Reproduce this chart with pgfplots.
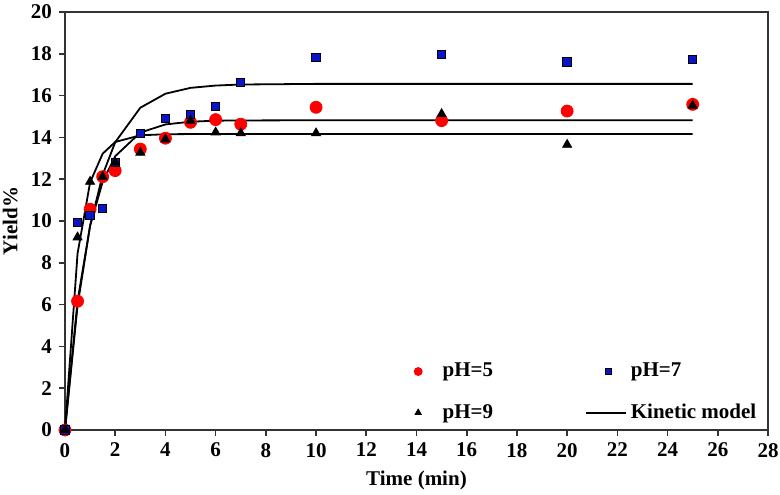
\documentclass[border=0pt]{standalone}
\usepackage{pgfplots}
\pgfplotsset{compat=1.18}
\usepackage{fontspec}
\setmainfont{Liberation Serif}
\definecolor{sqblue}{RGB}{10,20,200}
\begin{document}
\begin{tikzpicture}
\begin{axis}[
  scale only axis, width=351.5pt, height=209pt,
  xmin=0, xmax=28, ymin=0, ymax=20,
  xtick={0,2,...,28}, ytick={0,2,...,20},
  tick pos=left, tick align=outside, major tick length=3pt,
  axis line style={line width=1pt, black!80},
  every tick/.style={line width=0.8pt, black!80},
  /pgf/number format/assume math mode=true,
  ticklabel style={font=\fontsize{10.5}{12}\selectfont\bfseries},
  xlabel={\textbf{Time (min)}}, ylabel={\textbf{Yield\%}},
  label style={font=\fontsize{10.5}{12}\selectfont},
  xlabel style={at={(axis description cs:0.5,-0.12)}, anchor=center},
  ylabel style={at={(axis description cs:-0.078,0.5)}, anchor=center, rotate=0},
  clip=false,
  legend columns=2, legend cell align=left,
  legend style={draw=none, fill=none, font=\fontsize{10.5}{12}\selectfont\bfseries, at={(axis cs:13.0,3.6)}, anchor=north west, row sep=8pt,
    /tikz/every odd column/.append style={column sep=0pt},
    /tikz/every even column/.append style={column sep=44pt}},
  legend image code/.code={\draw[mark repeat=2,mark phase=2] plot coordinates {(0pt,0pt)(10pt,0pt)(20pt,0pt)};},
]
\addplot[only marks, mark=*, mark size=3pt, red, mark options={fill=red, draw=red},
  legend image code/.code={\path (0pt,0pt) (20pt,0pt); \draw[only marks, mark=*, mark size=2pt, red, mark options={fill=red, draw=red}] plot coordinates {(10pt,0pt)};}] coordinates {
(0,0) (0.5,6.16) (1,10.56) (1.5,12.12) (2,12.41) (3,13.44) (4,13.96) (5,14.72) (6,14.85) (7,14.63) (10,15.44) (15,14.80) (20,15.26) (25,15.58)};
\addlegendentry{pH=5}
\addplot[only marks, mark=square*, mark size=2.1pt, mark options={fill=sqblue, draw=black, line width=0.5pt},
  legend image code/.code={\path (0pt,0pt) (20pt,0pt); \draw[only marks, mark=square*, mark size=1.5pt, mark options={fill=sqblue, draw=black, line width=0.4pt}] plot coordinates {(11pt,0pt)};}] coordinates {
(0,0) (0.5,9.92) (1,10.25) (1.5,10.60) (2,12.79) (3,14.20) (4,14.90) (5,15.10) (6,15.47) (7,16.62) (10,17.81) (15,17.97) (20,17.60) (25,17.73)};
\addlegendentry{pH=7}
\addplot[only marks, mark=triangle*, mark size=2.6pt, mark options={fill=black, draw=black},
  legend image code/.code={\path (0pt,0pt) (20pt,0pt); \draw[only marks, mark=triangle*, mark size=1.8pt, mark options={fill=black, draw=black}] plot coordinates {(10pt,0pt)};}] coordinates {
(0,0) (0.5,9.22) (1,11.88) (1.5,12.12) (2,12.80) (3,13.27) (4,13.91) (5,14.80) (6,14.24) (7,14.20) (10,14.20) (15,15.12) (20,13.65) (25,15.52)};
\addlegendentry{pH=9}
\addplot[black, line width=0.9pt, mark=none] coordinates {
(0,0) (0.5,5.95) (1,9.77) (1.5,12.21) (2,13.77) (3,15.42) (4,16.09) (5,16.37) (6,16.48) (7,16.53) (10,16.56) (15,16.56) (20,16.56) (25,16.56)};
\addlegendentry{Kinetic model}
\addplot[black, line width=0.9pt, mark=none, forget plot] coordinates {
(0,0) (0.5,6.17) (1,9.78) (1.5,11.87) (2,13.10) (3,14.23) (4,14.62) (5,14.75) (6,14.80) (7,14.81) (10,14.82) (15,14.82) (20,14.82) (25,14.82)};
\addplot[black, line width=0.9pt, mark=none, forget plot] coordinates {
(0,0) (0.5,8.44) (1,11.85) (1.5,13.22) (2,13.78) (3,14.10) (4,14.15) (5,14.16) (6,14.16) (7,14.16) (10,14.16) (15,14.16) (20,14.16) (25,14.16)};
\end{axis}
\pgfresetboundingbox
\path ([shift={(-32.5pt,-32.5pt)}]current axis.south west) rectangle ([shift={(6pt,6pt)}]current axis.north east);
\end{tikzpicture}
\end{document}
